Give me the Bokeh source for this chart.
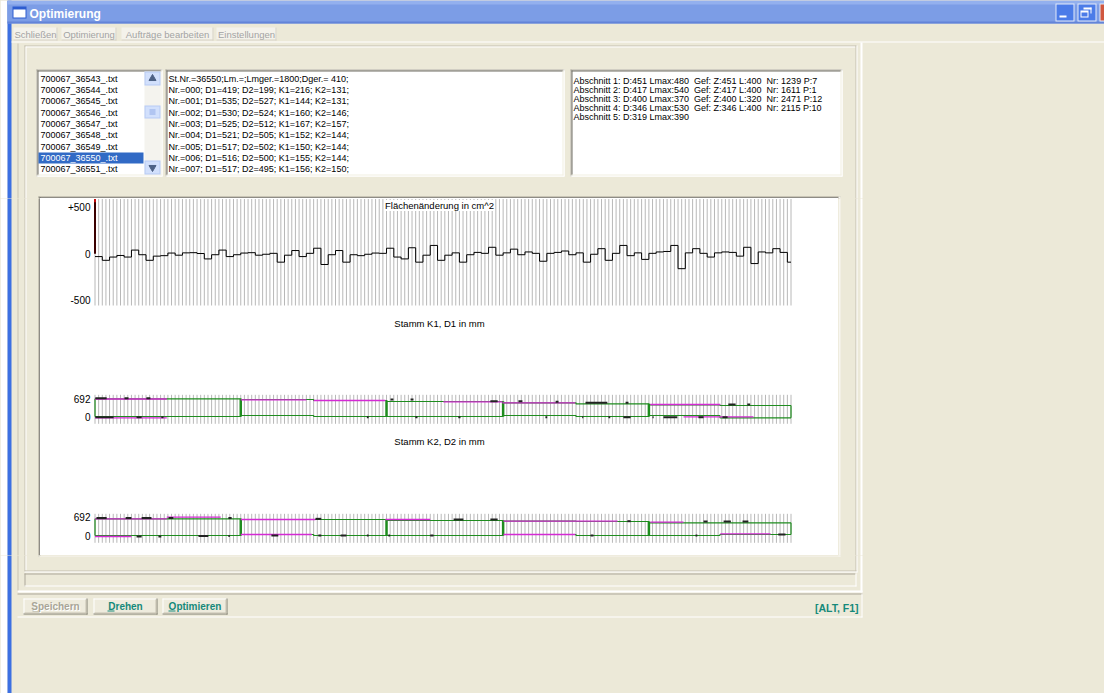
import numpy as np
from bokeh.plotting import figure
from bokeh.models import Range1d, FixedTicker, Label, ColumnDataSource
from bokeh.layouts import row, column
from bokeh.embed import file_html
from bokeh.resources import INLINE

# ===================== DATA =====================
window_title = "Optimierung"
menu_items = ["Schließen", "Optimierung", "Aufträge bearbeiten", "Einstellungen"]
file_names = ["700067_36543_.txt", "700067_36544_.txt", "700067_36545_.txt",
              "700067_36546_.txt", "700067_36547_.txt", "700067_36548_.txt",
              "700067_36549_.txt", "700067_36550_.txt", "700067_36551_.txt"]
selected_file = 7
stem_lines = ["St.Nr.=36550;Lm.=;Lmger.=1800;Dger.= 410;",
              "Nr.=000; D1=419; D2=199; K1=216; K2=131;",
              "Nr.=001; D1=535; D2=527; K1=144; K2=131;",
              "Nr.=002; D1=530; D2=524; K1=160; K2=146;",
              "Nr.=003; D1=525; D2=512; K1=167; K2=157;",
              "Nr.=004; D1=521; D2=505; K1=152; K2=144;",
              "Nr.=005; D1=517; D2=502; K1=150; K2=144;",
              "Nr.=006; D1=516; D2=500; K1=155; K2=144;",
              "Nr.=007; D1=517; D2=495; K1=156; K2=150;"]
section_lines = ["Abschnitt 1: D:451 Lmax:480  Gef: Z:451 L:400  Nr: 1239 P:7",
                 "Abschnitt 2: D:417 Lmax:540  Gef: Z:417 L:400  Nr: 1611 P:1",
                 "Abschnitt 3: D:400 Lmax:370  Gef: Z:400 L:320  Nr: 2471 P:12",
                 "Abschnitt 4: D:346 Lmax:530  Gef: Z:346 L:400  Nr: 2115 P:10",
                 "Abschnitt 5: D:319 Lmax:390"]
button_labels = ["Speichern", "Drehen", "Optimieren"]
button_enabled = [False, True, True]
hotkey_label = "[ALT, F1]"

panel_titles = ["Flächenänderung in cm^2", "Stamm K1, D1 in mm", "Stamm K2, D2 in mm"]
area_ticks = [-500, 0, 500]
area_tick_labels = ["-500", "0", "+500"]
stem_ticks = [0, 692]
stem_tick_labels = ["0", "692"]

section_len_cm = [400, 400, 320, 400, 390]

area_step_cm = 20
area_first_change = 1250
area_changes = [
    -30, -70, -35, -18, -35, 40, -10, -70, -25, -20,
    8, -15, 10, 12, 3, -55, -10, 40, -30, -10,
    8, 12, -15, -5, 5, -90, -15, 35, -30, 5,
    60, -115, -10, 35, -90, -10, -20, -5, 8, 5,
    60, -35, -55, 65, -90, -15, 90, -70, -15, 10,
    -90, -10, 15, 5, 70, -15, 10, 50, -10, 20,
    5, -80, 5, 15, 30, -10, 10, -90, -5, 55,
    -70, 5, 90, -20, 10, -60, 5, 20, 25, 90,
    -160, 10, 55, 5, -35, 10, 20, 15, -25, 70,
    -105, 20, 10, 55, 15, -90]

# section boxes, per half section (top / bottom, mm)
k1_top = [692, 692, 666, 628, 590, 590, 541, 504, 466, 440]
k1_bottom = [26, 26, 64, 26, 26, 26, 64, 26, 64, -23]
k2_top = [630, 630, 605, 605, 567, 567, 541, 529, 480, 480]
k2_bottom = [0, 0, 38, 0, 0, 0, 38, 0, 0, 38]

# measured profile pieces (magenta)
k1_prof_x0 = [0, 400, 600, 956, 1118, 1524, 0, 1615]
k1_prof_x1 = [197, 580, 797, 1118, 1318, 1716, 197, 1807]
k1_prof_y = [685, 655, 628, 580, 541, 478, -23, 15]
k2_prof_x0 = [0, 197, 400, 797, 1121, 1524, 0, 400, 1121, 1716]
k2_prof_x1 = [197, 345, 605, 920, 1434, 1615, 100, 595, 1318, 1854]
k2_prof_y = [630, 692, 605, 605, 541, 503, -38, 38, 38, 64]

# defect marks (black)
k1_mark_x0 = [1, 81, 141, 811, 866, 1085, 1162, 1264, 1346, 1456, 1738, 1790,
              1, 114, 182, 746, 879, 997, 1236, 1337, 1409, 1450, 1530, 1560, 1656, 1722]
k1_mark_x1 = [32, 92, 152, 819, 874, 1105, 1173, 1272, 1406, 1464, 1758, 1798,
              51, 128, 188, 751, 885, 1003, 1241, 1340, 1414, 1470, 1533, 1598, 1670, 1736]
k1_mark_y = [715, 715, 715, 666, 666, 602, 602, 580, 541, 541, 478, 478,
             0, 0, 0, 0, 0, 0, 0, 0, 0, 0, 0, 0, 0, 0]
k2_mark_x0 = [4, 84, 128, 202, 366, 605, 984, 1085, 1461, 1670, 1725, 1777,
              114, 174, 284, 366, 484, 613, 674, 746, 805, 920, 1360, 1648, 1875]
k2_mark_x1 = [32, 100, 155, 215, 375, 621, 1011, 1105, 1470, 1681, 1745, 1793,
              128, 182, 311, 370, 503, 621, 690, 751, 810, 929, 1368, 1653, 1895]
k2_mark_y = [665, 665, 665, 665, 665, 630, 605, 605, 541, 529, 529, 529,
             -38, -38, -20, -20, 0, 0, 0, 0, 0, 0, 0, 0, 38]

# ===================== STYLE / LAYOUT =====================
SANS = "Liberation Sans"
SMALL = "9px"
BEIGE = "#ECE9D8"
TEAL = "#16897A"
GREEN = "#1E8C1E"
MAGENTA = "#D42AD4"
GRIDC = "#B8B8B8"

PAGE_L, PAGE_R, PAGE_T, PAGE_B = 0, 1104, 0, 693
CH_L, CH_R, CH_T, CH_B = 40, 838, 198, 555
AXIS_W = 52
STEM_X0 = 94.5
PX_PER_CM = 0.3644
GRID_STEP = 10

# ---------- chrome primitives (screen coordinates) ----------
Q = {k: [] for k in ("l", "r", "t", "b", "c")}


def q(l, r, t, b, c):
    for k, v in zip(("l", "r", "t", "b", "c"), (l, r, t, b, c)):
        Q[k].append(v)


TK = ("x", "y", "text", "color", "size", "font", "align", "style")
T = []


def tx(x, y, s, color="#000000", size=SMALL, font=SANS, align="left", style="normal"):
    T.append(dict(zip(TK, (x, y, s, color, size, font, align, style))))


def sunken(l, r, t, b, fill="#FFFFFF"):
    q(l, r, t, b, fill)
    q(l, r, t, t + 1, "#ACA899"); q(l, l + 1, t, b, "#ACA899")
    q(l + 1, r - 1, t + 1, t + 2, "#716F64"); q(l + 1, l + 2, t + 1, b - 1, "#716F64")
    q(l, r, b - 1, b, "#FFFFFF"); q(r - 1, r, t, b, "#FFFFFF")
    q(l + 1, r - 1, b - 2, b - 1, "#F1EFE2"); q(r - 2, r - 1, t + 1, b - 1, "#F1EFE2")


# window background and border
q(PAGE_L, PAGE_R, PAGE_T, PAGE_B, BEIGE)
q(0, 7, 0, 693, "#FFFFFF")
q(7, 11, 0, 693, "#3C70E2")
# title bar
q(7, 1104, 0, 23, "#7C9DE6")
q(7, 1104, 0, 4, "#93B0EE")
q(7, 1104, 21, 23, "#6384D8")
q(12, 26, 6, 18, "#2D5CCF"); q(13, 25, 9, 17, "#FFFFFF")
tx(29, 13, window_title, "#FFFFFF", "12px", SANS, "left", "bold")
for bl in (1055, 1077):
    q(bl, bl + 19, 3, 21, "#E3EAFA"); q(bl + 1, bl + 18, 4, 20, "#4C7CE8")
q(1059, 1066, 15, 17, "#FFFFFF")
q(1083, 1091, 7, 9, "#FFFFFF"); q(1090, 1091, 7, 13, "#FFFFFF")
q(1080, 1088, 10, 17, "#FFFFFF"); q(1081, 1087, 12, 16, "#4C7CE8")
q(1099, 1104, 3, 21, "#E3EAFA"); q(1100, 1104, 4, 20, "#D0573F")
# menu bar
menu_boxes = [(13, 57), (61, 116), (121, 213), (216, 276)]
for (ml, mr), s in zip(menu_boxes, menu_items):
    q(ml, mr, 27, 40, "#F4F2EB"); q(mr - 1, mr, 27, 40, "#D5D1C3"); q(ml, mr, 39, 40, "#D5D1C3")
    tx((ml + mr) / 2, 33.5, s, "#A3A3A3", "9.5px", SANS, "center")
q(11, 1104, 41, 42, "#FFFFFF")
# outer frame
q(17, 18, 43, 592, "#C7C3B3")
q(860, 862, 42, 592, "#FFFFFF")
q(17, 862, 590, 592, "#FFFFFF")
# group box
q(24, 856, 45, 46, "#C4C0B0"); q(25, 855, 46, 47, "#FFFFFF")
q(24, 25, 45, 571, "#C4C0B0"); q(25, 26, 46, 570, "#FFFFFF")
q(855, 856, 45, 571, "#C4C0B0"); q(856, 857, 45, 572, "#FFFFFF")
q(24, 856, 570, 571, "#C4C0B0"); q(24, 857, 571, 572, "#FFFFFF")
# status box
q(24, 855, 573, 574, "#ACA899"); q(24, 25, 573, 586, "#ACA899")
q(24, 856, 585, 586, "#FFFFFF"); q(855, 856, 573, 586, "#FFFFFF")
# button bar
q(17, 862, 593, 594, "#ACA899"); q(17, 862, 616, 617, "#FFFFFF"); q(861, 862, 593, 617, "#FFFFFF")
btn_boxes = [(23, 87), (93, 157), (162, 227)]
underlines = [(32, 38), (107, 114), (168, 175)]
for (bl, br), s, en, (ul, ur) in zip(btn_boxes, button_labels, button_enabled, underlines):
    q(bl, br, 598, 614, "#EEEBDD")
    q(bl, br, 598, 599, "#FFFFFF"); q(bl, bl + 1, 598, 614, "#FFFFFF")
    q(bl, br, 613, 614, "#7F7C6E"); q(br - 1, br, 598, 614, "#7F7C6E")
    q(bl + 1, br - 1, 612, 613, "#C5C1B1"); q(br - 2, br - 1, 599, 613, "#C5C1B1")
    col = TEAL if en else "#A8A597"
    if not en:
        tx((bl + br) / 2 + 1, 607, s, "#FFFFFF", "10px", SANS, "center", "bold")
    tx((bl + br) / 2, 606, s, col, "10px", SANS, "center", "bold")
    q(ul, ur, 610, 611, col)
tx(858, 607, hotkey_label, TEAL, "10.5px", SANS, "right", "bold")
# chart area border
q(38, 840, 196, 197, "#A5A293"); q(38, 39, 196, 556, "#A5A293")
q(39, 839, 197, 198, "#555555"); q(39, 40, 197, 555, "#555555")
q(38, 840, 555, 556, "#F7F6F0"); q(838, 840, 196, 556, "#F7F6F0")
# list box
sunken(36, 162, 69, 176)
LINE_H = 11.3
q(38, 143, 152, 163, "#316AC5")
q(144, 160, 71, 174, "#F4F3EE")
for (sl, sr, st, sb) in [(144, 160, 71, 85), (144, 160, 160, 174), (144, 160, 105, 118)]:
    q(sl, sr, st, sb, "#B7CBF5"); q(sl + 1, sr - 1, st + 1, sb - 1, "#D2E0FC")
for gy in (109, 111, 113):
    q(149, 155, gy, gy + 1, "#8FA9E6")
for i, s in enumerate(file_names):
    tx(40, 78.3 + LINE_H * i, s, "#FFFFFF" if i == selected_file else "#000000")
# stem data box
sunken(165, 564, 69, 176)
for i, s in enumerate(stem_lines):
    tx(168, 78.3 + LINE_H * i, s)
# section box
sunken(570, 842, 69, 176)
for i, s in enumerate(section_lines):
    tx(573, 80 + 9.2 * i, s.replace("  ", "\u00a0 "))

qsrc = ColumnDataSource(Q)


def chrome_fig(x0, x1, y0, y1):
    p = figure(width=x1 - x0, height=y1 - y0, x_range=Range1d(x0, x1), y_range=Range1d(y1, y0),
               x_axis_type=None, y_axis_type=None, output_backend="svg",
               toolbar_location=None, min_border=0)
    p.outline_line_color = None
    p.background_fill_color = BEIGE
    p.border_fill_color = BEIGE
    p.quad(left="l", right="r", top="t", bottom="b", fill_color="c", line_color=None, source=qsrc)
    if y0 <= 78 <= y1 and x0 <= 152 <= x1:
        p.scatter(x=[152], y=[78], marker="triangle", size=7, color="#4D6185")
        p.scatter(x=[152], y=[167], marker="inverted_triangle", size=7, color="#4D6185")
    mine = [d for d in T if x0 <= d["x"] < x1 and y0 <= d["y"] < y1]
    if mine:
        src = ColumnDataSource({k: [d[k] for d in mine] for k in TK})
        p.text(x="x", y="y", text="text", text_color="color", text_font_size="size",
               text_font="font", text_align="align", text_font_style="style",
               text_baseline="middle", source=src)
    return p


# ---------- chart panels ----------
frame_w = CH_R - CH_L - AXIS_W
X_START = (CH_L + AXIS_W - STEM_X0) / PX_PER_CM
X_END = X_START + frame_w / PX_PER_CM
sec_edges = np.concatenate([[0], np.cumsum(section_len_cm)])
stem_len = float(sec_edges[-1])
grid_x = np.arange(0, stem_len + 1, GRID_STEP)


def sx2cm(sx):
    return (sx - STEM_X0) / PX_PER_CM


def make_panel(top_px, h_px, zero_px, ppu, ticks, labels, title, title_sy, grid_sy):
    y_end = (zero_px - top_px) / ppu
    y_start = y_end - h_px / ppu
    p = figure(width=CH_R - CH_L, height=h_px, x_range=Range1d(X_START, X_END),
               y_range=Range1d(y_start, y_end), x_axis_type=None,
               output_backend="svg", toolbar_location=None,
               min_border=0, min_border_left=AXIS_W)
    p.background_fill_color = "white"
    p.border_fill_color = "white"
    p.outline_line_color = None
    p.ygrid.visible = False
    ax = p.yaxis[0]
    ax.ticker = FixedTicker(ticks=ticks)
    ax.major_label_overrides = {tk: lb for tk, lb in zip(ticks, labels)}
    ax.axis_line_color = None
    ax.major_tick_line_color = None
    ax.minor_tick_line_color = None
    ax.major_tick_in = 0
    ax.major_tick_out = 0
    ax.major_label_standoff = 2
    ax.major_label_text_font = SANS
    ax.major_label_text_font_size = "10px"
    ax.major_label_text_color = "#000000"
    g_top = (zero_px - grid_sy[0]) / ppu
    g_bot = (zero_px - grid_sy[1]) / ppu
    p.segment(x0=grid_x, y0=g_bot, x1=grid_x, y1=g_top, line_color=GRIDC, line_width=1)
    p.add_layout(Label(x=sx2cm(439), y=(zero_px - title_sy) / ppu, text=title,
                       text_align="center", text_baseline="middle", text_font=SANS,
                       text_font_size="9.5px", text_color="#000000",
                       background_fill_color="white"))
    return p, g_top, g_bot


# panel 1: area change
p1, g1_top, g1_bot = make_panel(CH_T, 116, 253.3, 46.5 / 500, area_ticks, area_tick_labels,
                                panel_titles[0], 205, (198.5, 305))
edges = [min(area_step_cm * i, stem_len) for i in range(len(area_changes) + 1)]
p1.step(x=edges, y=area_changes + [area_changes[-1]], mode="after", line_color="#000000", line_width=1)
p1.segment(x0=[0], y0=[0], x1=[0], y1=[min(area_first_change, g1_top)], line_color="#3A0000", line_width=2)
p1.quad(left=[-2.5], right=[2.5], top=[g1_top], bottom=[g1_top - 35], fill_color="#D01010", line_color=None)

half_x = []
for a, b in zip(sec_edges[:-1], sec_edges[1:]):
    half_x += [float(a), float(a + b) / 2]
half_x.append(stem_len)


def stem_panel(top_px, h_px, zero_px, ppu, title, title_sy, grid_sy, top, bottom,
               px0, px1, py, mx0, mx1, my):
    p, _, _ = make_panel(top_px, h_px, zero_px, ppu, stem_ticks, stem_tick_labels,
                         title, title_sy, grid_sy)
    p.step(x=half_x, y=top + [top[-1]], mode="after", line_color=GREEN, line_width=1.2)
    p.step(x=half_x, y=bottom + [bottom[-1]], mode="after", line_color=GREEN, line_width=1.2)
    n = len(sec_edges)
    for j, e in enumerate(sec_edges):
        idx = [k for k in (2 * j - 1, 2 * j) if 0 <= k < len(top)]
        yt = max(top[k] for k in idx)
        yb = min(bottom[k] for k in idx)
        w = 1.2 if j in (0, n - 1) else 2.5
        p.segment(x0=[e], y0=[yb], x1=[e], y1=[yt], line_color=GREEN, line_width=w)
    p.segment(x0=px0, y0=py, x1=px1, y1=py, line_color=MAGENTA, line_width=1.3)
    p.segment(x0=mx0, y0=my, x1=mx1, y1=my, line_color="#222222", line_width=2)
    return p


p2 = stem_panel(316, 117, 416.7, 18.4 / 692, panel_titles[1], 323, (394.3, 423.3),
                k1_top, k1_bottom, k1_prof_x0, k1_prof_x1, k1_prof_y,
                k1_mark_x0, k1_mark_x1, k1_mark_y)
p3 = stem_panel(435, 120, 535.0, 18.3 / 692, panel_titles[2], 441, (513.3, 542.3),
                k2_top, k2_bottom, k2_prof_x0, k2_prof_x1, k2_prof_y,
                k2_mark_x0, k2_mark_x1, k2_mark_y)


def separator():
    p = figure(width=CH_R - CH_L, height=2, x_range=Range1d(0, 1), y_range=Range1d(0, 1),
               x_axis_type=None, y_axis_type=None, output_backend="svg",
               toolbar_location=None, min_border=0)
    p.outline_line_color = None
    p.background_fill_color = "#000000"
    p.border_fill_color = "#000000"
    p.quad(left=[0], right=[1], top=[1], bottom=[0], color="#000000")
    return p


chart = column(p1, separator(), p2, separator(), p3, spacing=0,
               styles={"background-color": "#FFFFFF"})
middle = row(chrome_fig(PAGE_L, CH_L, CH_T, CH_B), chart, chrome_fig(CH_R, PAGE_R, CH_T, CH_B),
             spacing=0, styles={"background-color": BEIGE})
layout = column(chrome_fig(PAGE_L, PAGE_R, PAGE_T, CH_T), middle,
                chrome_fig(PAGE_L, PAGE_R, CH_B, PAGE_B), spacing=0,
                styles={"background-color": BEIGE})

open("out.html", "w").write(file_html(layout, INLINE, title="Optimierung"))
